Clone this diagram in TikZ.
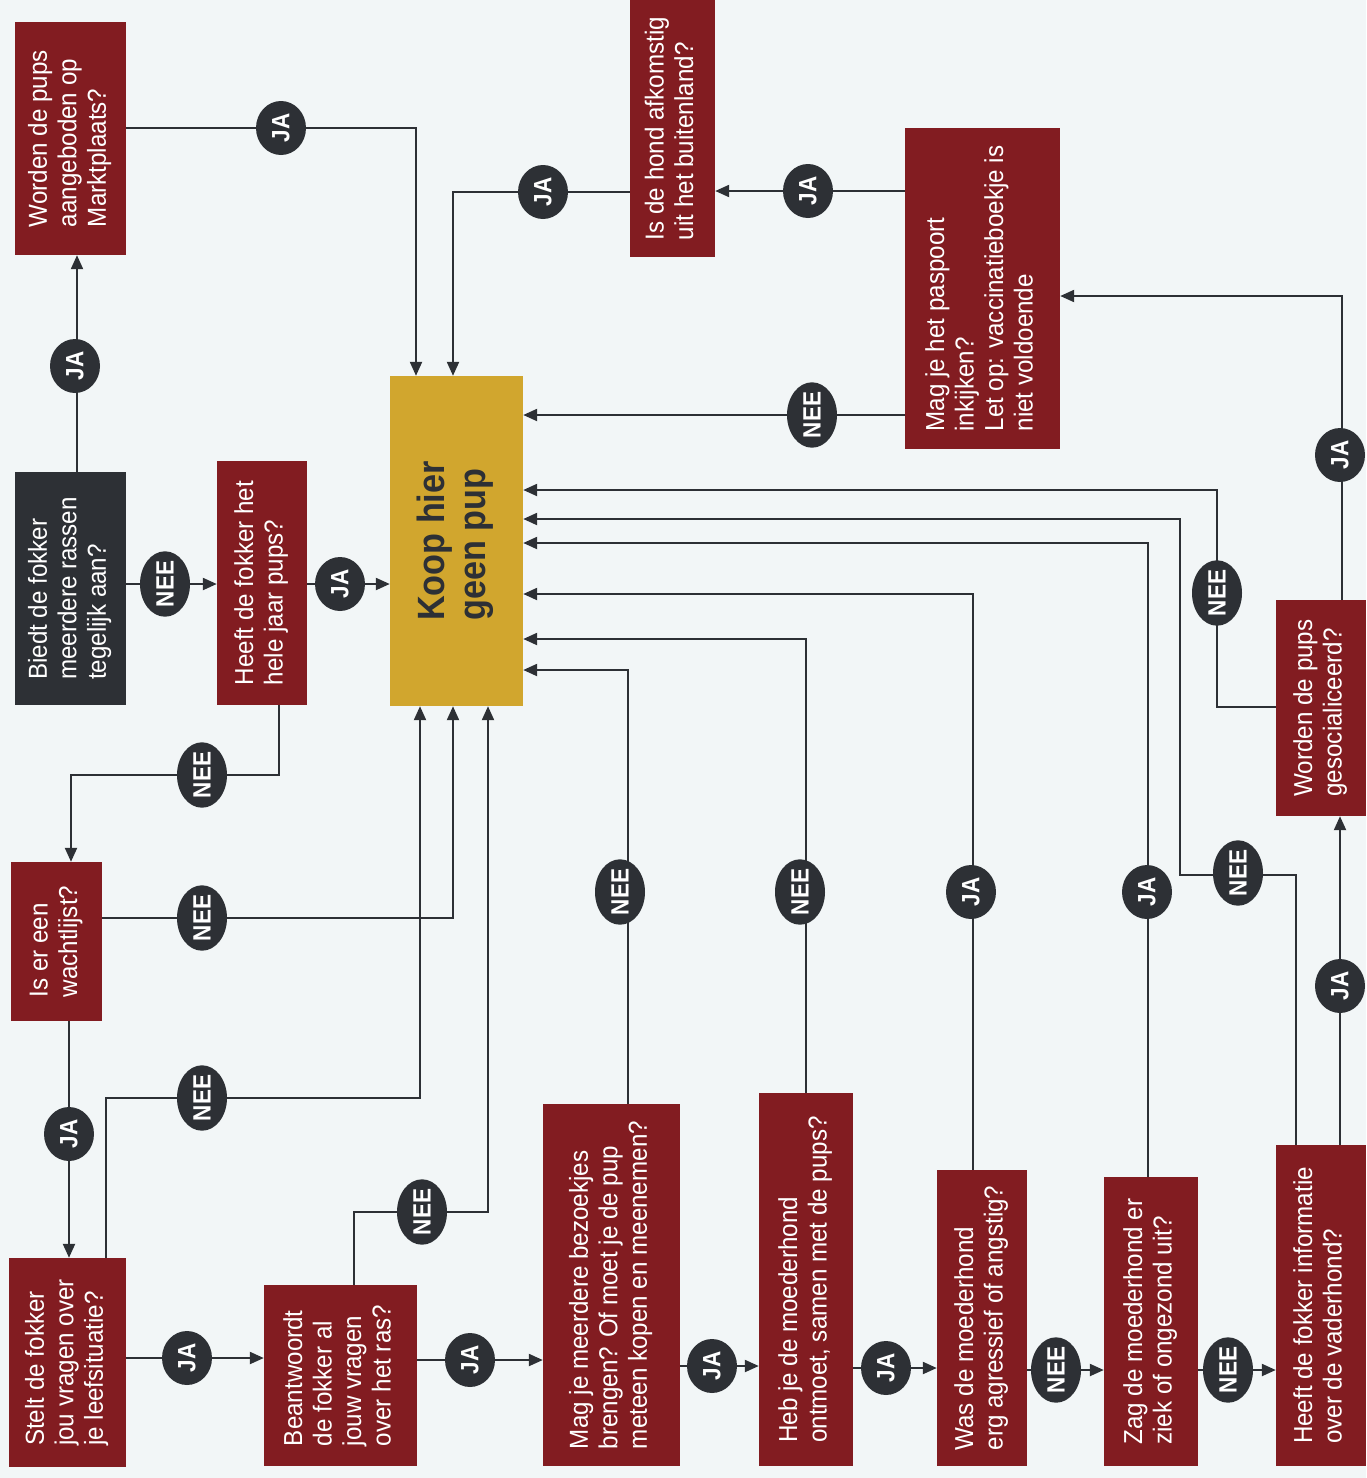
\documentclass[tikz,border=0pt]{standalone}
\usepackage{fontspec}
\usetikzlibrary{arrows.meta,shapes.geometric}
\newfontfamily\boxfont{Liberation Sans}[FakeStretch=0.93]
\newfontfamily\badgefont{Liberation Sans}[FakeStretch=0.9]
\definecolor{bgc}{HTML}{F2F6F7}
\definecolor{redc}{HTML}{821C21}
\definecolor{darkc}{HTML}{2D3035}
\definecolor{goldc}{HTML}{D1A62E}
\newcommand\vt[1]{\rotatebox{90}{\begin{tabular}{@{}l@{}}#1\end{tabular}}}
\newcommand\vb[1]{\rotatebox{90}{#1}}
\pgfdeclarelayer{bg}
\pgfsetlayers{bg,main}
\begin{document}
\begin{tikzpicture}[x=1pt,y=-1pt,
 qbox/.style={rectangle, fill=redc, text=white, inner sep=0pt, font=\boxfont\fontsize{26}{29.5}\selectfont},
 darkbox/.style={qbox, fill=darkc},
 goalbox/.style={rectangle, fill=goldc, text=darkc, inner sep=0pt, font=\badgefont\bfseries\fontsize{38}{41}\selectfont},
 badge/.style={ellipse, fill=darkc, text=white, inner sep=0pt, minimum width=50pt, minimum height=54pt, font=\badgefont\bfseries\fontsize{25}{25}\selectfont},
 conn/.style={draw=darkc, line width=2.2pt},
 arr/.style={conn, -{Triangle[length=14pt,width=12pt]}}
]
\useasboundingbox (0,0) rectangle (1366,1478);
\begin{pgfonlayer}{bg}
\fill[bgc] (0,0) rectangle (1366,1478);
\end{pgfonlayer}

% boxes
\node[qbox, minimum width=111pt, minimum height=233pt] (A) at (70.5,138.5) {\vt{Worden de pups\\aangeboden op\\Marktplaats?}};
\node[qbox, minimum width=85pt, minimum height=257pt] (B) at (672.5,128.5) {\vt{Is de hond afkomstig\\uit het buitenland?}};
\node[qbox, minimum width=155pt, minimum height=321pt] (C) at (982.5,288.5) {\vt{Mag je het paspoort\\inkijken?\\Let op: vaccinatieboekje is\\niet voldoende}};
\node[goalbox, minimum width=133pt, minimum height=330pt] (K) at (456.5,541) {\vt{Koop hier\\geen pup}};
\node[darkbox, minimum width=111pt, minimum height=233pt] (D) at (70.5,588.5) {\vt{Biedt de fokker\\meerdere rassen\\tegelijk aan?}};
\node[qbox, minimum width=90pt, minimum height=244pt] (E) at (262,583) {\vt{Heeft de fokker het\\hele jaar pups?}};
\node[qbox, minimum width=91pt, minimum height=159pt] (F) at (56.5,941.5) {\vt{Is er een\\wachtlijst?}};
\node[qbox, minimum width=117pt, minimum height=209pt] (G) at (67.5,1362.5) {\vt{Stelt de fokker\\jou vragen over\\je leefsituatie?}};
\node[qbox, minimum width=153pt, minimum height=181pt] (H) at (340.5,1375.5) {\vt{Beantwoordt\\de fokker al\\jouw vragen\\over het ras?}};
\node[qbox, minimum width=137pt, minimum height=362pt] (M) at (611.5,1285) {\vt{Mag je meerdere bezoekjes\\brengen? Of moet je de pup\\meteen kopen en meenemen?}};
\node[qbox, minimum width=94pt, minimum height=373pt] (N) at (806,1279.5) {\vt{Heb je de moederhond\\ontmoet, samen met de pups?}};
\node[qbox, minimum width=90pt, minimum height=296pt] (P) at (982,1318) {\vt{Was de moederhond\\erg agressief of angstig?}};
\node[qbox, minimum width=94pt, minimum height=289pt] (Q) at (1151,1321.5) {\vt{Zag de moederhond er\\ziek of ongezond uit?}};
\node[qbox, minimum width=90pt, minimum height=321pt] (R) at (1321,1305.5) {\vt{Heeft de fokker informatie\\over de vaderhond?}};
\node[qbox, minimum width=90pt, minimum height=216pt] (S) at (1321,708) {\vt{Worden de pups\\gesocialiceerd?}};

% badges
\node[badge] (b1) at (75,366) {\vb{JA}};
\node[badge] (b2) at (281,128) {\vb{JA}};
\node[badge] (b3) at (543,192) {\vb{JA}};
\node[badge] (b4) at (808,191) {\vb{JA}};
\node[badge] (b5) at (812,415) {\vb{NEE}};
\node[badge] (b6) at (165,584) {\vb{NEE}};
\node[badge] (b7) at (340,584) {\vb{JA}};
\node[badge] (b8) at (202,775) {\vb{NEE}};
\node[badge] (b9) at (202,918) {\vb{NEE}};
\node[badge] (b10) at (69,1134) {\vb{JA}};
\node[badge] (b11) at (202,1098) {\vb{NEE}};
\node[badge] (b12) at (187,1358) {\vb{JA}};
\node[badge] (b13) at (422,1212) {\vb{NEE}};
\node[badge] (b14) at (470,1360) {\vb{JA}};
\node[badge] (b15) at (620,892) {\vb{NEE}};
\node[badge] (b16) at (800,892) {\vb{NEE}};
\node[badge] (b17) at (712,1366) {\vb{JA}};
\node[badge] (b18) at (886,1368) {\vb{JA}};
\node[badge] (b19) at (971,892) {\vb{JA}};
\node[badge] (b20) at (1056,1370) {\vb{NEE}};
\node[badge] (b21) at (1147,892) {\vb{JA}};
\node[badge] (b22) at (1228,1370) {\vb{NEE}};
\node[badge] (b23) at (1238,873) {\vb{NEE}};
\node[badge] (b24) at (1340,986) {\vb{JA}};
\node[badge] (b25) at (1217,593) {\vb{NEE}};
\node[badge] (b26) at (1340,455) {\vb{JA}};

\begin{pgfonlayer}{bg}
\draw[arr] (D.north -| 77,0) -- (A.south -| 77,0);
\draw[arr] (A.east |- 0,128) -| (K.north -| 416,0);
\draw[arr] (B.west |- 0,192) -| (K.north -| 453,0);
\draw[arr] (C.west |- 0,191) -- (B.east |- 0,191);
\draw[arr] (C.west |- 0,415) -- (K.east |- 0,415);
\draw[arr] (D.east |- 0,584) -- (E.west |- 0,584);
\draw[arr] (E.east |- 0,584) -- (K.west |- 0,584);
\draw[arr] (E.south -| 279,0) |- (71,775) -- (F.north -| 71,0);
\draw[arr] (F.east |- 0,918) -| (K.south -| 453,0);
\draw[arr] (F.south -| 69,0) -- (G.north -| 69,0);
\draw[arr] (G.north -| 106,0) |- (420,1098) -- (K.south -| 420,0);
\draw[arr] (G.east |- 0,1358) -- (H.west |- 0,1358);
\draw[arr] (H.north -| 354,0) |- (488,1212) -- (K.south -| 488,0);
\draw[arr] (H.east |- 0,1360) -- (M.west |- 0,1360);
\draw[arr] (M.north -| 628,0) |- (K.east |- 0,670);
\draw[arr] (N.north -| 806,0) |- (K.east |- 0,639);
\draw[arr] (M.east |- 0,1366) -- (N.west |- 0,1366);
\draw[arr] (N.east |- 0,1368) -- (P.west |- 0,1368);
\draw[arr] (P.north -| 973,0) |- (K.east |- 0,594);
\draw[arr] (P.east |- 0,1370) -- (Q.west |- 0,1370);
\draw[arr] (Q.north -| 1148,0) |- (K.east |- 0,543);
\draw[arr] (Q.east |- 0,1370) -- (R.west |- 0,1370);
\draw[arr] (R.north -| 1296,0) |- (1180,875) |- (K.east |- 0,519);
\draw[arr] (R.north -| 1340,0) -- (S.south -| 1340,0);
\draw[arr] (S.west |- 0,707) -| (1217,490) -- (K.east |- 0,490);
\draw[arr] (S.north -| 1342,0) |- (C.east |- 0,296);
\end{pgfonlayer}
\end{tikzpicture}
\end{document}
